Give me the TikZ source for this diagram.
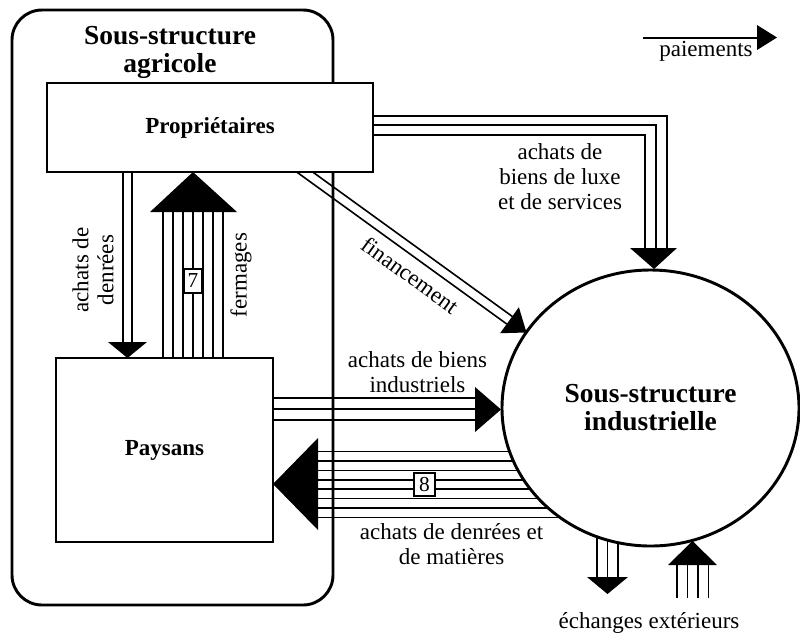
\documentclass[tikz,border=0pt]{standalone}
\usepackage{fontspec}
\setmainfont{Liberation Serif}
\usetikzlibrary{shapes.geometric}
\pgfdeclarelayer{background}
\pgfsetlayers{background,main}
\begin{document}
\begin{tikzpicture}[x=0.75pt,y=-0.75pt,
  ln/.style={line width=1.2pt},
  lab/.style={font=\fontsize{17.25}{18.75}\selectfont, align=center, inner sep=0pt},
  boxlab/.style={font=\bfseries\fontsize{17.25}{19}\selectfont},
  ttl/.style={font=\bfseries\fontsize{20.6}{21}\selectfont, align=center, inner sep=0pt},
  numbox/.style={draw, fill=white, line width=1pt, inner sep=0pt, font=\fontsize{16}{18}\selectfont},
  boxstyle/.style={draw, fill=white, line width=1.3pt, inner sep=0pt, boxlab},
]
\useasboundingbox (0,0) rectangle (800,637);
% main shapes
\node[draw, line width=2.2pt, rounded corners=22.5pt, minimum width=240.75pt, minimum height=446.25pt, inner sep=0pt] (agri) at (172.5,307.5) {};
\node[ttl] (agrit) at (170,52) {Sous-structure\\agricole};
\node[boxstyle, minimum width=244.5pt, minimum height=66.75pt] (prop) at (210,127.5) {Propriétaires};
\node[boxstyle, minimum width=162.75pt, minimum height=138pt] (pays) at (164.5,450) {Paysans};
\node[ellipse, draw, fill=white, line width=2.2pt, minimum width=222.75pt, minimum height=207pt, ttl] (ind) at (650.5,408) {Sous-structure\\industrielle};

\begin{pgfonlayer}{background}
% achats de biens de luxe et de services
\draw[ln] (prop.center |- 0,116) -| (667,248);
\draw[ln] (prop.center |- 0,125) -| (656,248);
\draw[ln] (prop.center |- 0,135) -| (645,248);
\fill (630,248) -- (677,248) -- (654,269) -- cycle;
% financement
\draw[ln] (293.65,169.8) -- (506.75,324.0);
\draw[ln] (299.15,162.2) -- (512.25,316.4);
\fill (500.1,333.2) -- (518.9,307.2) -- (526.5,332.5) -- cycle;
% achats de denrees (proprietaires -> paysans)
\draw[ln] (prop.center -| 123,0) -- (123,342);
\draw[ln] (prop.center -| 132,0) -- (132,342);
\fill (108,342) -- (147,342) -- (127.5,358) -- cycle;
% fermages
\foreach \x in {163,173,...,223} \draw[ln] (pays.center -| \x,0) -- (\x,212);
\fill (150,212) -- (237,212) -- (193,172) -- cycle;
% achats de biens industriels
\foreach \y in {398,409,420} \draw[ln] (pays.center |- 0,\y) -- (475,\y);
\fill (475,387) -- (475,432) -- (501,409.5) -- cycle;
% achats de denrees et de matieres
\foreach \y in {451.5,460.9,470.3,479.7,489.1,498.5,507.9,517.3} \draw[ln] (312,\y) -- (ind.center |- 0,\y);
\fill (318,438) -- (318,530) -- (273,484) -- cycle;
% echanges exterieurs
\foreach \x in {597,607.5,618} \draw[ln] (ind.center -| \x,0) -- (\x,577);
\fill (587,577) -- (628,577) -- (607.5,594) -- cycle;
\foreach \x in {677,687.5,698,708.5} \draw[ln] (\x,598) -- (\x,565);
\fill (668,565) -- (717,565) -- (692.5,541) -- cycle;
\end{pgfonlayer}

% number boxes
\node[numbox, minimum width=13pt, minimum height=18pt] (n7) at (193,281) {7};
\node[numbox, minimum width=15.75pt, minimum height=17.25pt] (n8) at (424.5,484.5) {8};

% legend
\coordinate (pl) at (643,38);
\coordinate (pr) at (757,38);
\draw[ln] (pl) -- (pr);
\fill (757,25) -- (777,37.5) -- (757,50) -- cycle;
\node[lab, anchor=base] (l8) at (706,56) {paiements};

% labels
\node[lab] (l1) at (560,177) {achats de\\biens de luxe\\et de services};
\node[lab, rotate=-36] (l2) at (410,275) {financement};
\node[lab, rotate=90] (l3) at (93,270) {achats de\\denrées};
\node[lab, rotate=90] (l4) at (241,275) {fermages};
\node[lab] (l5) at (417.5,372.5) {achats de biens\\industriels};
\node[lab] (l6) at (451.5,544.5) {achats de denrées et\\de matières};
\node[lab] (l7) at (649,623) {échanges extérieurs};
\end{tikzpicture}
\end{document}
